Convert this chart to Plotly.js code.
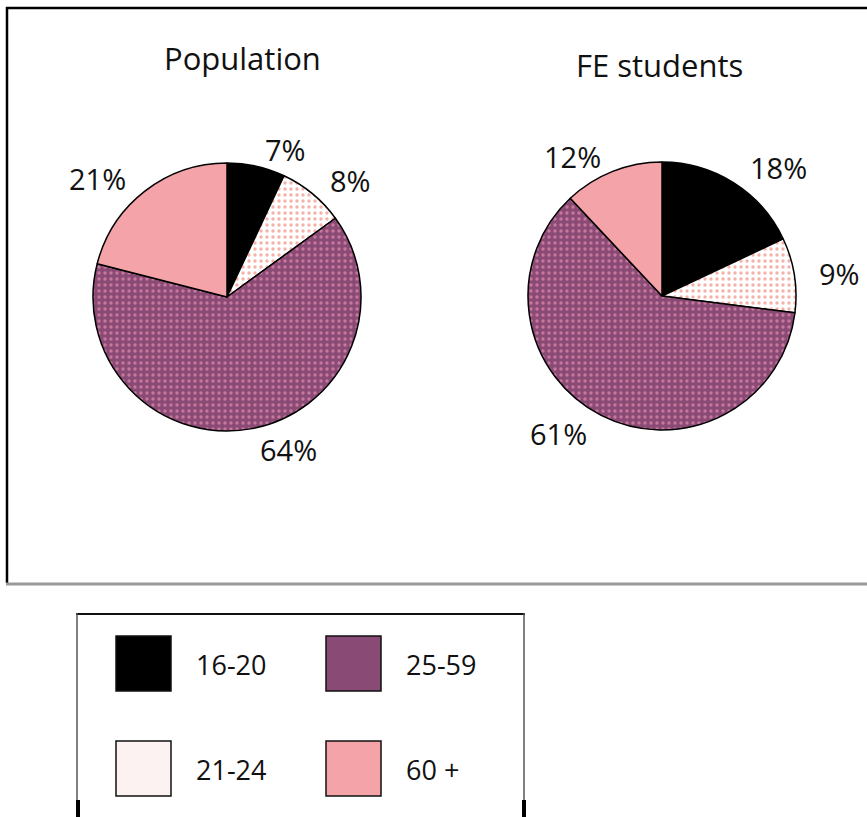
<!DOCTYPE html>
<html>
<head>
<meta charset="utf-8">
<script src="https://cdn.plot.ly/plotly-3.0.1.min.js"></script>
<style>
  html, body { margin: 0; padding: 0; background: #ffffff; }
  #chart { width: 867px; height: 817px; }
</style>
</head>
<body>
<div id="chart"></div>
<script>
// Age groups, in clockwise order from 12 o'clock
const ageGroups = ['16-20', '21-24', '25-59', '60 +'];
// Share of each age group (%)
const populationShare = [7, 8, 64, 21];
const feStudentShare = [18, 9, 61, 12];
const panelTitles = ['Population', 'FE students'];

const sliceColors = ['#000000', '#ffffff', '#8a4a76', '#f4a3a8'];
const dotColors = ['#000000', '#f5b0a8', '#c8789c', '#f8b4b8'];
const swatchColors = ['#000000', '#fdf2f2', '#8a4a76', '#f4a3a8'];

const W = 867, H = 817;
const px = x => x / W;
const py = y => 1 - y / H;

const FONT = 'Open Sans, Noto Sans, sans-serif';

function pieTrace(values, x0, x1, yTop, yBot) {
  return {
    type: 'pie',
    labels: ageGroups,
    values: values,
    sort: false,
    direction: 'clockwise',
    rotation: 0,
    textinfo: 'none',
    marker: {
      colors: sliceColors,
      line: { color: '#000000', width: 1.5 },
      pattern: {
        shape: ['', '.', '.', ''],
        bgcolor: sliceColors,
        fgcolor: dotColors,
        size: 6,
        solidity: 0.25
      }
    },
    showlegend: false,
    hoverinfo: 'label+percent',
    domain: { x: [px(x0), px(x1)], y: [py(yBot), py(yTop)] }
  };
}

const traces = [
  pieTrace(populationShare, 93, 361, 163, 431),
  pieTrace(feStudentShare, 527, 797, 162, 430)
];

const shapes = [
  // chart frame
  { type: 'line', xref: 'paper', yref: 'paper', x0: px(7), x1: px(7), y0: py(7), y1: py(583), line: { color: '#000000', width: 2.5 } },
  { type: 'line', xref: 'paper', yref: 'paper', x0: px(6), x1: px(870), y0: py(8), y1: py(8), line: { color: '#000000', width: 2.5 } },
  { type: 'line', xref: 'paper', yref: 'paper', x0: px(6), x1: px(870), y0: py(584), y1: py(584), line: { color: '#9a9a9a', width: 3 } },
  // key box
  { type: 'line', xref: 'paper', yref: 'paper', x0: px(76), x1: px(525), y0: py(614), y1: py(614), line: { color: '#111111', width: 2 } },
  { type: 'line', xref: 'paper', yref: 'paper', x0: px(77), x1: px(77), y0: py(613), y1: py(800), line: { color: '#555555', width: 1.5 } },
  { type: 'line', xref: 'paper', yref: 'paper', x0: px(524), x1: px(524), y0: py(613), y1: py(800), line: { color: '#555555', width: 1.5 } },
  { type: 'line', xref: 'paper', yref: 'paper', x0: px(78), x1: px(78), y0: py(800), y1: py(820), line: { color: '#000000', width: 4 } },
  { type: 'line', xref: 'paper', yref: 'paper', x0: px(524), x1: px(524), y0: py(800), y1: py(820), line: { color: '#000000', width: 4 } }
];

const annotations = [
  { text: panelTitles[0], x: px(242), y: py(58), xref: 'paper', yref: 'paper', xanchor: 'center', yanchor: 'middle', showarrow: false, font: { family: FONT, size: 31, color: '#111111' } },
  { text: panelTitles[1], x: px(659), y: py(65), xref: 'paper', yref: 'paper', xanchor: 'center', yanchor: 'middle', showarrow: false, font: { family: FONT, size: 31, color: '#111111' } }
];

// Percentage labels placed beside each slice (pixel centres, ageGroups order)
const popLabelPos = [[285, 149], [350, 181], [288, 449], [97, 179]];
const feLabelPos = [[778, 168], [839, 274], [558, 433], [572, 156]];
function addValueLabels(values, positions) {
  values.forEach((v, i) => {
    annotations.push({
      text: v + '%', x: px(positions[i][0]), y: py(positions[i][1]),
      xref: 'paper', yref: 'paper', xanchor: 'center', yanchor: 'middle',
      showarrow: false, font: { family: FONT, size: 29, color: '#111111' }
    });
  });
}
addValueLabels(populationShare, popLabelPos);
addValueLabels(feStudentShare, feLabelPos);

// key swatch positions (left, top) in pixels, same order as ageGroups
const swatchPos = [[116, 636], [116, 741], [326, 636], [326, 741]];
ageGroups.forEach((g, i) => {
  const [l, t] = swatchPos[i];
  shapes.push({
    type: 'rect', xref: 'paper', yref: 'paper',
    x0: px(l), x1: px(l + 55), y0: py(t + 55), y1: py(t),
    fillcolor: swatchColors[i], line: { color: '#111111', width: 1.5 }
  });
  annotations.push({
    text: g, x: px(l + 78), y: py(t + 28), xref: 'paper', yref: 'paper',
    xanchor: 'left', yanchor: 'middle', showarrow: false,
    font: { family: FONT, size: 27, color: '#111111' }
  });
});

const layout = {
  width: W, height: H,
  margin: { l: 0, r: 0, t: 0, b: 0 },
  paper_bgcolor: '#ffffff',
  plot_bgcolor: '#ffffff',
  showlegend: false,
  shapes: shapes,
  annotations: annotations
};

Plotly.newPlot('chart', traces, layout, { displayModeBar: false, staticPlot: true });
</script>
</body>
</html>
